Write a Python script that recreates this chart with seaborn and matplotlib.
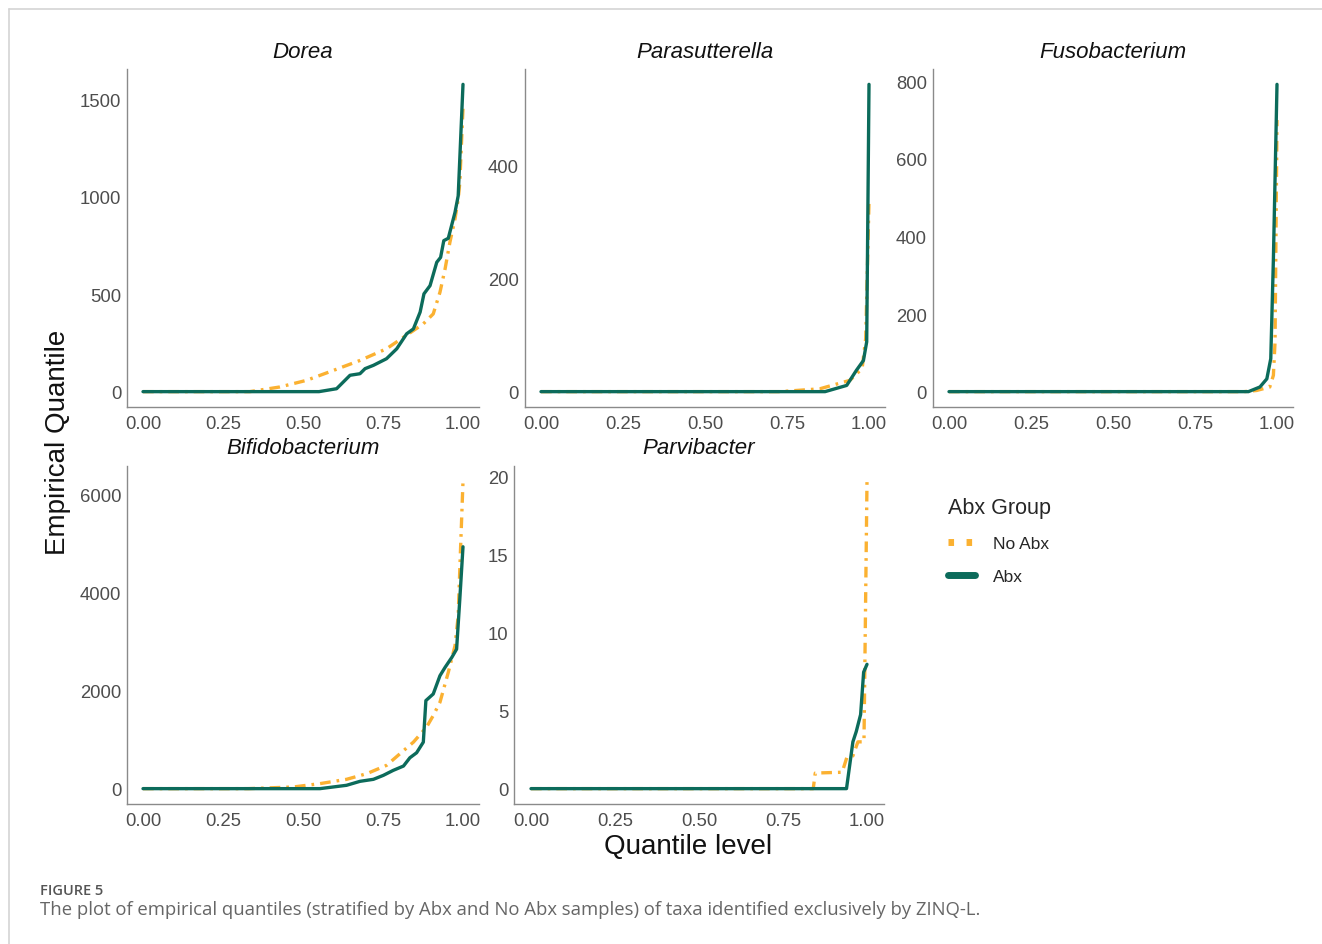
import numpy as np
import pandas as pd
import matplotlib
matplotlib.use("Agg")
import matplotlib.pyplot as plt
from matplotlib.lines import Line2D
import seaborn as sns

# ---------------- data ----------------
taxa = ["Dorea", "Parasutterella", "Fusobacterium", "Bifidobacterium", "Parvibacter"]
groups = ["No Abx", "Abx"]

dorea_abx_q = [0, 0.55, 0.605, 0.647, 0.678, 0.694, 0.72, 0.761, 0.793, 0.824, 0.845, 0.866,
               0.878, 0.897, 0.918, 0.93, 0.94, 0.954, 0.975, 0.985, 1.0]
dorea_abx_v = [0, 0, 15, 84, 92, 118, 135, 169, 220, 297, 322, 408,
               502, 544, 664, 689, 775, 787, 920, 1005, 1577]
dorea_noabx_q = [0, 0.334, 0.428, 0.511, 0.595, 0.678, 0.761, 0.824, 0.876, 0.907, 0.928,
                 0.944, 0.959, 0.975, 0.985, 0.99, 1.0]
dorea_noabx_v = [0, 0, 24, 58, 109, 160, 220, 290, 348, 399, 510,
                 630, 766, 887, 988, 1073, 1457]

para_abx_q = [0, 0.866, 0.932, 0.962, 0.983, 0.993, 1.0]
para_abx_v = [0, 0, 11, 38, 55, 88, 543]
para_noabx_q = [0, 0.729, 0.85, 0.905, 0.942, 0.979, 0.99, 1.0]
para_noabx_v = [0, 0, 5, 14, 20, 41, 94, 336]

fuso_abx_q = [0, 0.913, 0.948, 0.969, 0.981, 0.989, 1.0]
fuso_abx_v = [0, 0, 12, 33, 85, 342, 792]
fuso_noabx_q = [0, 0.9, 0.938, 0.978, 0.989, 0.994, 1.0]
fuso_noabx_v = [0, 0, 3, 12, 42, 128, 700]

bifido_abx_q = [0, 0.553, 0.636, 0.678, 0.72, 0.751, 0.782, 0.814, 0.834, 0.855, 0.876,
                0.884, 0.907, 0.928, 0.944, 0.965, 0.98, 0.99, 1.0]
bifido_abx_v = [0, 0, 68, 149, 190, 271, 373, 461, 630, 732, 949,
                1797, 1932, 2305, 2475, 2678, 2847, 3864, 4936]
bifido_noabx_q = [0, 0.33, 0.47, 0.553, 0.636, 0.699, 0.761, 0.803, 0.845, 0.886, 0.907,
                  0.928, 0.954, 0.975, 0.985, 0.99, 1.0]
bifido_noabx_v = [0, 0, 34, 102, 190, 305, 475, 712, 949, 1254, 1492,
                  1763, 2373, 2915, 3525, 4475, 6271]

parvi_abx_q = [0, 0.939, 0.958, 0.968, 0.981, 0.99, 1.0]
parvi_abx_v = [0, 0, 3.0, 3.66, 4.75, 7.47, 7.97]
parvi_noabx_q = [0, 0.84, 0.846, 0.926, 0.94, 0.958, 0.973, 0.991, 1.0]
parvi_noabx_v = [0, 0, 1, 1.05, 2, 2.1, 3, 3, 19.7]

y_ticks = {
    "Dorea": [0, 500, 1000, 1500],
    "Parasutterella": [0, 200, 400],
    "Fusobacterium": [0, 200, 400, 600, 800],
    "Bifidobacterium": [0, 2000, 4000, 6000],
    "Parvibacter": [0, 5, 10, 15, 20],
}
x_ticks = [0.0, 0.25, 0.5, 0.75, 1.0]
x_tick_labels = ["0.00", "0.25", "0.50", "0.75", "1.00"]

series = {
    "Dorea": {"No Abx": (dorea_noabx_q, dorea_noabx_v), "Abx": (dorea_abx_q, dorea_abx_v)},
    "Parasutterella": {"No Abx": (para_noabx_q, para_noabx_v), "Abx": (para_abx_q, para_abx_v)},
    "Fusobacterium": {"No Abx": (fuso_noabx_q, fuso_noabx_v), "Abx": (fuso_abx_q, fuso_abx_v)},
    "Bifidobacterium": {"No Abx": (bifido_noabx_q, bifido_noabx_v), "Abx": (bifido_abx_q, bifido_abx_v)},
    "Parvibacter": {"No Abx": (parvi_noabx_q, parvi_noabx_v), "Abx": (parvi_abx_q, parvi_abx_v)},
}

rows = []
for t in taxa:
    for g in groups:
        q, v = series[t][g]
        for i, (qq, vv) in enumerate(zip(q, v)):
            rows.append({"taxon": t, "group": g, "order": i, "q": qq, "value": vv})
df = pd.DataFrame(rows)

# ---------------- style ----------------
sns.set_theme(style="white")
plt.rcParams["font.family"] = ["Liberation Sans", "DejaVu Sans"]

GREEN = "#0c6b5b"
ORANGE = "#fbb131"
palette = {"No Abx": ORANGE, "Abx": GREEN}
dashes = {"No Abx": (3.2, 1.8, 0.8, 1.8), "Abx": ""}

W, H = 1322, 945
fig = plt.figure(figsize=(W / 100, H / 100), dpi=100)

# panel geometry in pixels: (left, right, top, bottom)
geom = {
    "Dorea": (127, 479, 70, 408),
    "Parasutterella": (524.6, 885.4, 70, 408),
    "Fusobacterium": (932.6, 1293.4, 70, 408),
    "Bifidobacterium": (127, 479, 467, 805),
    "Parvibacter": (514.2, 883.8, 467, 805),
}

AXCOL = "#8a8a8a"
TICKCOL = "#4d4d4d"
for t in taxa:
    l, r, tp, b = geom[t]
    ax = fig.add_axes([l / W, 1 - b / H, (r - l) / W, (b - tp) / H])
    sub = df[df.taxon == t].sort_values(["group", "order"])
    sns.lineplot(data=sub, x="q", y="value", hue="group", style="group",
                 hue_order=groups, style_order=groups, palette=palette, dashes=dashes,
                 sort=False, estimator=None, units="group", linewidth=2.4,
                 ax=ax, legend=False)
    M = sub["value"].max()
    ax.set_ylim(-0.05 * M, 1.05 * M)
    ax.set_xlim(-0.05, 1.05)
    ax.set_xticks(x_ticks)
    ax.set_xticklabels(x_tick_labels)
    ax.set_yticks(y_ticks[t])
    ax.set_yticklabels([str(v) for v in y_ticks[t]])
    ax.tick_params(axis="both", length=0, labelsize=13.3, labelcolor=TICKCOL)
    ax.tick_params(axis="x", pad=6)
    ax.tick_params(axis="y", pad=4)
    ax.set_xlabel("")
    ax.set_ylabel("")
    for s in ["top", "right"]:
        ax.spines[s].set_visible(False)
    for s in ["left", "bottom"]:
        ax.spines[s].set_color(AXCOL)
        ax.spines[s].set_linewidth(1.0)
    ax.set_facecolor("none")
    ax.grid(False)
    fig.text((l + r) / 2 / W, 1 - (tp - 18) / H, t, ha="center", va="center",
             fontsize=16, style="italic", color="#111111")

fig.text(58 / W, 1 - 442 / H, "Empirical Quantile", rotation=90, ha="center", va="center",
         fontsize=20, color="#111111")
fig.text(688 / W, 1 - 847 / H, "Quantile level", ha="center", va="center",
         fontsize=20, color="#111111")

handles = [
    Line2D([0], [0], color=ORANGE, lw=5, dashes=(0.8, 1.8, 0.8, 1.8)),
    Line2D([0], [0], color=GREEN, lw=5),
]
leg = fig.legend(handles, groups, loc="upper left", bbox_to_anchor=(932 / W, 1 - 482 / H),
                 frameon=False, title="Abx Group", fontsize=12.5, title_fontsize=15.5,
                 handlelength=1.6, handletextpad=1.0, labelspacing=1.05, alignment="left")

# caption
fig.text(40 / W, 1 - 891 / H, "FIGURE 5", ha="left", va="center", fontsize=10.5,
         color="#555555", family=["Open Sans", "DejaVu Sans"], weight="semibold")
fig.text(40 / W, 1 - 910 / H,
         "The plot of empirical quantiles (stratified by Abx and No Abx samples) of taxa identified exclusively by ZINQ-L.",
         ha="left", va="center", fontsize=13.3, color="#666666", family=["Open Sans", "DejaVu Sans"])

# page frame lines
fig.add_artist(Line2D([9 / W, 1.0], [1 - 10 / H, 1 - 10 / H], color="#d4d4d4", lw=1.2))
fig.add_artist(Line2D([9 / W, 9 / W], [0, 1 - 10 / H], color="#d4d4d4", lw=1.2))

fig.savefig("out.png", dpi=100, facecolor="white")
